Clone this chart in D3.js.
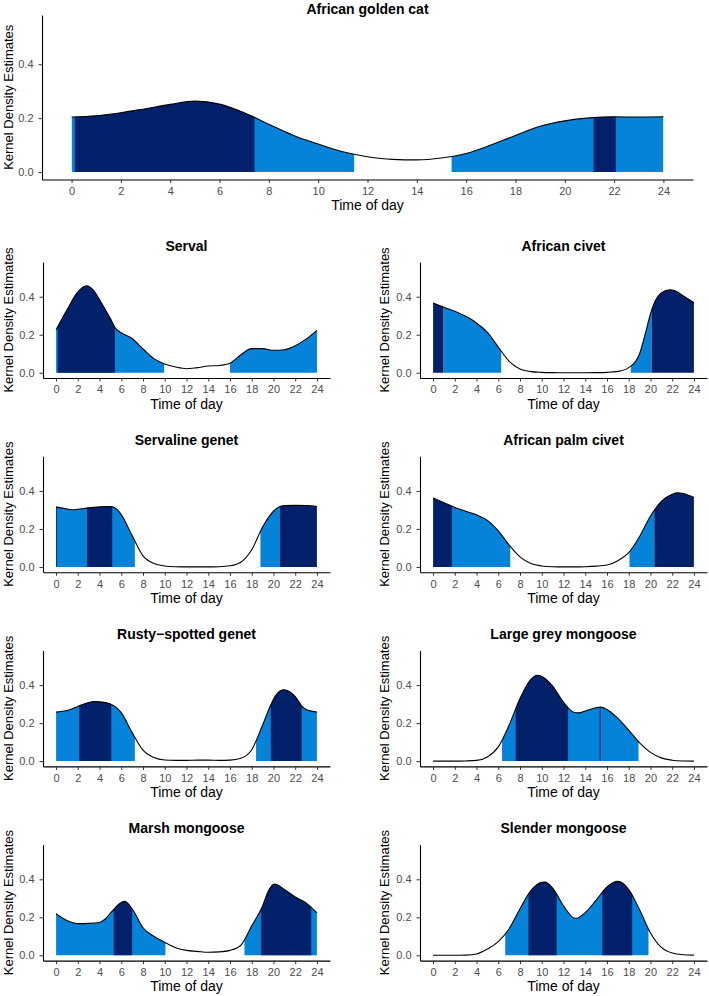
<!DOCTYPE html>
<html><head><meta charset="utf-8">
<script src="https://cdn.jsdelivr.net/npm/d3@7"></script>
<style>
body{margin:0;background:#fff}
text{font-family:"Liberation Sans",Arial,Helvetica,sans-serif}
</style>
</head><body>
<svg id="chart" width="709" height="996"></svg>
<script>
// ---------- data ----------
const hourTicks = [0,2,4,6,8,10,12,14,16,18,20,22,24];
const densityTicks = [0, 0.2, 0.4];
const xLabel = "Time of day";
const yLabel = "Kernel Density Estimates";

const goldenCatDensity = [[0,0.204],[1,0.209],[2,0.22],[3,0.235],[4,0.251],[5,0.263],[6,0.252],[7,0.22],[8,0.177],[9,0.136],[10,0.104],[11,0.075],[12,0.057],[13,0.047],[14,0.045],[15,0.052],[16,0.069],[17,0.1],[18,0.136],[19,0.17],[20,0.19],[21,0.201],[22,0.205],[23,0.204],[24,0.205]];
const goldenCatLight = [[0,11.46],[15.41,24]];
const goldenCatDark = [[0.13,7.42],[21.17,22.07]];

const servalDensity = [[0,0.226],[1,0.33],[2,0.425],[2.8,0.458],[3.5,0.43],[4,0.384],[5,0.285],[5.5,0.232],[6,0.21],[7,0.18],[8,0.125],[9,0.074],[10,0.046],[11,0.03],[12,0.021],[13,0.027],[14,0.035],[15,0.038],[16,0.05],[17,0.095],[18,0.127],[19,0.127],[20,0.118],[21,0.121],[22,0.142],[23,0.177],[24,0.223]];
const servalLight = [[0,9.95],[16,24]];
const servalDark = [[0.15,5.42]];

const civetDensity = [[0,0.367],[1,0.345],[2,0.324],[3,0.297],[4,0.262],[5,0.212],[6,0.135],[7,0.06],[8,0.02],[9,0.006],[10,0.002],[11,0.0005],[12,0],[13,0],[14,0],[15,0.0005],[16,0.002],[17,0.007],[18,0.027],[19,0.1],[19.5,0.2],[20,0.31],[20.5,0.385],[21,0.42],[21.8,0.437],[22.5,0.425],[23,0.405],[24,0.368]];
const civetLight = [[0.95,6.27],[18.2,20.1]];
const civetDark = [[0,0.95],[20.1,24]];

const servalineGenetDensity = [[0,0.316],[1,0.305],[1.5,0.301],[2,0.303],[3,0.311],[4,0.316],[5,0.318],[5.5,0.308],[6,0.275],[7,0.165],[8,0.058],[9,0.018],[10,0.005],[11,0.001],[12,0],[13,0],[14,0],[15,0.001],[16,0.006],[17,0.025],[18,0.09],[19,0.21],[20,0.293],[20.5,0.315],[21,0.323],[22,0.324],[23,0.323],[24,0.318]];
const servalineGenetLight = [[0,7.25],[18.8,20.6]];
const servalineGenetDark = [[0,0.08],[2.85,5.17],[20.6,24]];

const palmCivetDensity = [[0,0.363],[1,0.338],[2,0.313],[3,0.293],[4,0.274],[5,0.245],[6,0.19],[7,0.115],[8,0.053],[9,0.018],[10,0.005],[11,0.001],[12,0],[13,0],[14,0.001],[15,0.004],[16,0.01],[17,0.033],[18,0.075],[19,0.16],[20,0.268],[20.5,0.31],[21,0.345],[22,0.383],[22.5,0.39],[23,0.386],[24,0.365]];
const palmCivetLight = [[1.74,7.1],[18.07,20.35]];
const palmCivetDark = [[0,1.74],[20.35,24]];

const rustyGenetDensity = [[0,0.258],[1,0.266],[2,0.288],[3,0.309],[3.5,0.313],[4,0.312],[5,0.301],[6,0.255],[7,0.15],[8,0.058],[9,0.019],[10,0.006],[11,0.004],[12,0.004],[13,0.005],[14,0.005],[15,0.004],[16,0.005],[17,0.015],[18,0.06],[19,0.19],[19.75,0.295],[20.2,0.345],[20.9,0.376],[21.5,0.365],[22,0.34],[22.6,0.29],[23,0.272],[23.5,0.263],[24,0.258]];
const rustyGenetLight = [[0,7.25],[18.4,24]];
const rustyGenetDark = [[2.13,5.08],[19.75,22.6]];

const largeGreyDensity = [[0,0],[1,0],[2,0],[3,0.001],[4,0.004],[5,0.022],[6,0.075],[7,0.19],[8,0.33],[9,0.43],[9.6,0.452],[10,0.446],[11,0.395],[12,0.31],[13,0.256],[13.4,0.254],[14,0.264],[15,0.281],[15.4,0.284],[16,0.272],[17,0.225],[18,0.163],[19,0.096],[20,0.046],[21,0.017],[22,0.005],[23,0.001],[24,0]];
const largeGreyLight = [[6.35,18.9]];
const largeGreyDark = [[7.6,12.42],[15.33,15.42]];

const marshDensity = [[0,0.219],[1,0.183],[2,0.167],[3,0.168],[4,0.173],[4.5,0.19],[5,0.222],[6,0.278],[6.3,0.284],[7,0.245],[8,0.145],[9,0.1],[10,0.068],[11,0.04],[12,0.026],[13,0.021],[14,0.016],[15,0.018],[16,0.026],[17,0.053],[18,0.155],[19,0.26],[19.5,0.335],[20.1,0.375],[21,0.347],[22,0.307],[23,0.276],[24,0.223]];
const marshLight = [[0,10.06],[17.33,24]];
const marshDark = [[5.31,7.0],[18.86,23.47]];

const slenderDensity = [[0,0],[1,0],[2,0],[3,0.001],[4,0.007],[5,0.033],[6,0.072],[7,0.14],[8,0.245],[9,0.34],[10,0.384],[10.3,0.385],[11,0.354],[12,0.261],[13,0.196],[13.2,0.195],[14,0.225],[15,0.29],[16,0.36],[17,0.389],[18,0.346],[19,0.24],[20,0.118],[21,0.042],[22,0.012],[23,0.003],[24,0.001]];
const slenderLight = [[6.64,19.82]];
const slenderDark = [[8.78,11.38],[15.57,18.32]];

// ---------- layout ----------
const DARK = "#03216A", LIGHT = "#0583D8";
const yLo = -0.02775, yHi = 0.58275;
const panels = [
  {title:"African golden cat", d:goldenCatDensity, light:goldenCatLight, dark:goldenCatDark, left:42, right:693, top:15, ppu:269.5, labX:8},
  {title:"Serval", d:servalDensity, light:servalLight, dark:servalDark, left:43, right:330, top:262, ppu:190, labX:8},
  {title:"African civet", d:civetDensity, light:civetLight, dark:civetDark, left:420, right:707, top:262, ppu:190, labX:384},
  {title:"Servaline genet", d:servalineGenetDensity, light:servalineGenetLight, dark:servalineGenetDark, left:43, right:330, top:456.2, ppu:190, labX:8},
  {title:"African palm civet", d:palmCivetDensity, light:palmCivetLight, dark:palmCivetDark, left:420, right:707, top:456.2, ppu:190, labX:384},
  {title:"Rusty\u2212spotted genet", d:rustyGenetDensity, light:rustyGenetLight, dark:rustyGenetDark, left:43, right:330, top:650.4, ppu:190, labX:8},
  {title:"Large grey mongoose", d:largeGreyDensity, light:largeGreyLight, dark:largeGreyDark, left:420, right:707, top:650.4, ppu:190, labX:384},
  {title:"Marsh mongoose", d:marshDensity, light:marshLight, dark:marshDark, left:43, right:330, top:844.6, ppu:190, labX:8},
  {title:"Slender mongoose", d:slenderDensity, light:slenderLight, dark:slenderDark, left:420, right:707, top:844.6, ppu:190, labX:384}
];

const svg = d3.select("#chart");
svg.append("rect").attr("width",709).attr("height",996).attr("fill","#fff");
const defs = svg.append("defs");

panels.forEach((p, i) => {
  const bottom = p.top + (yHi - yLo) * p.ppu;
  const x = d3.scaleLinear().domain([-1.2, 25.2]).range([p.left, p.right]);
  const y = d3.scaleLinear().domain([yLo, yHi]).range([bottom, p.top]);
  const g = svg.append("g");

  const area = d3.area().x(d => x(d[0])).y0(y(0)).y1(d => y(d[1])).curve(d3.curveMonotoneX);
  const line = d3.line().x(d => x(d[0])).y(d => y(d[1])).curve(d3.curveMonotoneX);

  const bands = (list, color, tag) => list.forEach((b, j) => {
    const id = `clip-${i}-${tag}-${j}`;
    defs.append("clipPath").attr("id", id).append("rect")
      .attr("x", x(b[0])).attr("width", x(b[1]) - x(b[0]))
      .attr("y", p.top - 5).attr("height", bottom - p.top + 10);
    g.append("path").datum(p.d).attr("d", area).attr("fill", color)
      .attr("clip-path", `url(#${id})`);
  });
  bands(p.light, LIGHT, "l");
  bands(p.dark, DARK, "d");

  g.append("path").datum(p.d).attr("d", line).attr("fill", "none")
    .attr("stroke", "#000").attr("stroke-width", 1.1);

  // axes
  const xa = g.append("g").attr("transform", `translate(0,${bottom})`)
    .call(d3.axisBottom(x).tickValues(hourTicks).tickFormat(d3.format("d"))
      .tickSize(3.5).tickSizeOuter(0).tickPadding(4.2));
  const ya = g.append("g").attr("transform", `translate(${p.left},0)`)
    .call(d3.axisLeft(y).tickValues(densityTicks).tickFormat(d3.format(".1f"))
      .tickSize(3.5).tickSizeOuter(0).tickPadding(5));
  [xa, ya].forEach(a => {
    a.select(".domain").attr("stroke", "#000").attr("stroke-width", 1.1);
    a.selectAll(".tick line").attr("stroke", "#333").attr("stroke-width", 1);
    a.selectAll(".tick text").attr("fill", "#4d4d4d").style("font-size", "11px")
      .style("font-family", '"Liberation Sans",Arial,sans-serif');
  });

  // titles
  svg.append("text").attr("x", (p.left + p.right) / 2)
    .attr("y", i === 0 ? 13.5 : p.top - 11.3)
    .attr("text-anchor", "middle").style("font-weight", "bold").style("font-size", "14px")
    .text(p.title);
  svg.append("text").attr("x", (p.left + p.right) / 2).attr("y", bottom + 30.7)
    .attr("text-anchor", "middle").style("font-size", "14px").text(xLabel);
  svg.append("text").attr("transform", `translate(${p.labX + 4.5},${(p.top + bottom) / 2}) rotate(-90)`)
    .attr("text-anchor", "middle").style("font-size", "13px").text(yLabel);
});
</script>
</body></html>
